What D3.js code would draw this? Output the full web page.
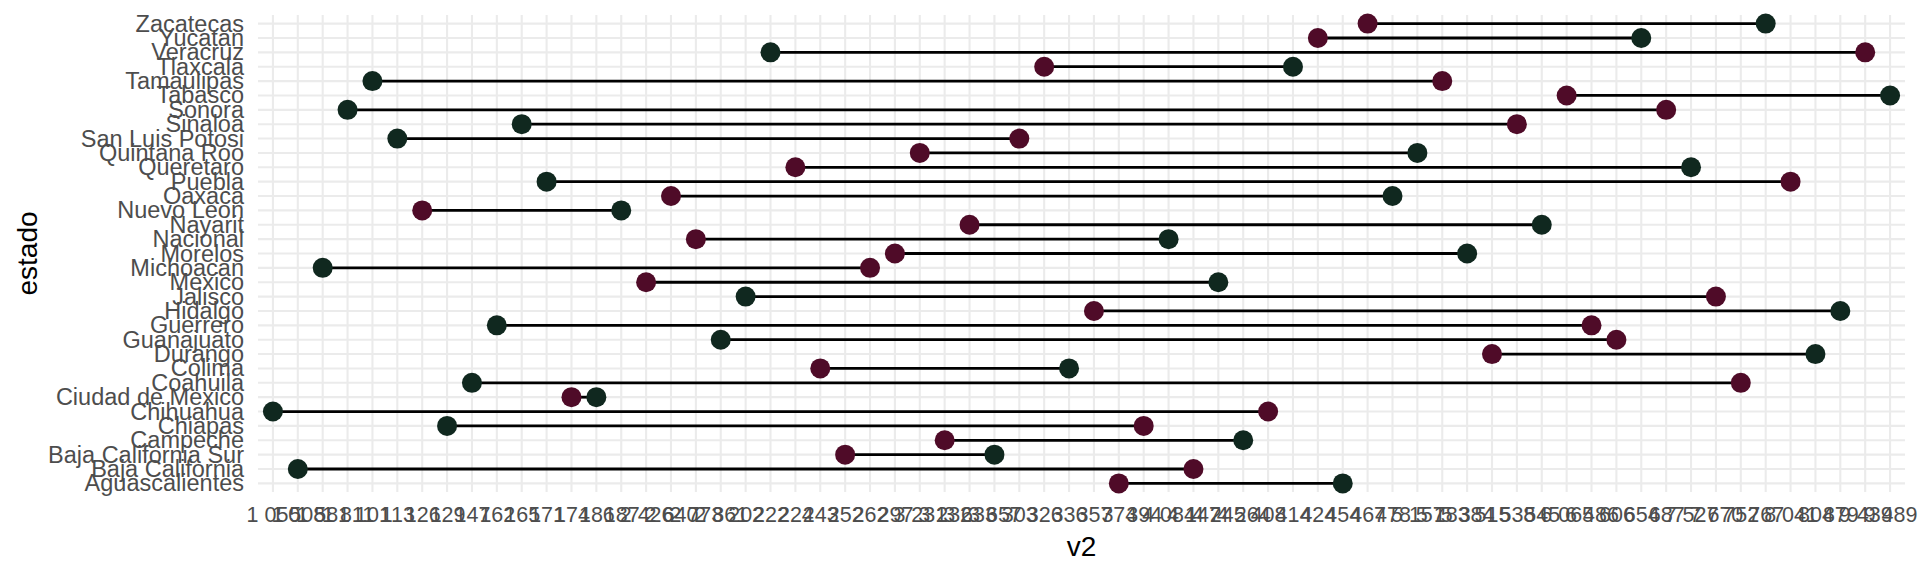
<!DOCTYPE html>
<html>
<head>
<meta charset="utf-8">
<script src="https://cdn.jsdelivr.net/npm/d3@7"></script>
<style>
  body { margin: 0; background: #fff; }
  svg { display: block; }
</style>
</head>
<body>
<svg id="chart"></svg>
<script>
// estados, bottom to top
var estados = ["Aguascalientes", "Baja California", "Baja California Sur", "Campeche", "Chiapas",
  "Chihuahua", "Ciudad de Mexico", "Coahuila", "Colima", "Durango", "Guanajuato", "Guerrero",
  "Hidalgo", "Jalisco", "Mexico", "Michoacan", "Morelos", "Nacional", "Nayarit", "Nuevo Leon",
  "Oaxaca", "Puebla", "Queretaro", "Quintana Roo", "San Luis Potosi", "Sinaloa", "Sonora",
  "Tabasco", "Tamaulipas", "Tlaxcala", "Veracruz", "Yucatan", "Zacatecas"];

// v2 levels (character, sorted), as shown on the x axis
var niveles = ["1 050", "1 508", "1 581", "1 811", "101", "113", "126", "129", "147", "162",
  "165", "171", "174", "186", "187", "2 426", "2 640", "2 773", "2 861", "202",
  "222", "224", "243", "252", "262", "297", "3 231", "3 232", "3 633", "3 657",
  "303", "326", "336", "357", "374", "394", "4 084", "4 147", "4 245", "4 264",
  "408", "414", "424", "454", "467", "478", "5 157", "5 183", "5 384", "515",
  "538", "545", "6 065", "6 486", "606", "654", "687", "7 527", "7 670", "752",
  "767", "8 041", "804", "879", "9 439", "9 489"];

// first value (maroon point), same order as estados
var valor1 = ["374", "4 147", "252", "3 232", "394", "408", "174", "752", "243", "515",
  "606", "6 486", "357", "7 670", "2 426", "262", "297", "2 773", "3 633", "126",
  "2 640", "8 041", "224", "3 231", "303", "538", "687", "6 065", "5 183", "326",
  "9 439", "424", "467"];

// second value (green point), same order as estados
var valor2 = ["454", "1 508", "3 657", "4 264", "129", "1 050", "186", "147", "336", "804",
  "2 861", "162", "879", "202", "4 245", "1 581", "5 384", "4 084", "545", "187",
  "478", "171", "7 527", "5 157", "113", "165", "1 811", "9 489", "101", "414",
  "222", "654", "767"];

var W = 1920, H = 576;
var x0 = 258, x1 = 1905, y0 = 15, y1 = 492;

var svg = d3.select("#chart").attr("width", W).attr("height", H);
var font = "'Liberation Sans', Arial, Helvetica, sans-serif";

var x = d3.scalePoint().domain(niveles).range([x0, x1]).padding(0.6);
var y = d3.scalePoint().domain(estados).range([y1, y0]).padding(0.6);

// grid
svg.append("g").selectAll("line.gx")
  .data(niveles).enter().append("line")
  .attr("x1", function(d) { return x(d); }).attr("x2", function(d) { return x(d); })
  .attr("y1", y0).attr("y2", y1)
  .attr("stroke", "#ebebeb").attr("stroke-width", 2.1);
svg.append("g").selectAll("line.gy")
  .data(estados).enter().append("line")
  .attr("y1", function(d) { return y(d); }).attr("y2", function(d) { return y(d); })
  .attr("x1", x0).attr("x2", x1)
  .attr("stroke", "#ebebeb").attr("stroke-width", 2.1);

var filas = estados.map(function(e, i) { return {estado: e, a: valor1[i], b: valor2[i]}; });

// segments
svg.append("g").selectAll("line.seg")
  .data(filas).enter().append("line")
  .attr("x1", function(d) { return x(d.a); })
  .attr("x2", function(d) { return x(d.b); })
  .attr("y1", function(d) { return y(d.estado); })
  .attr("y2", function(d) { return y(d.estado); })
  .attr("stroke", "#000").attr("stroke-width", 2.8);

// points
svg.append("g").selectAll("circle.a")
  .data(filas).enter().append("circle")
  .attr("cx", function(d) { return x(d.a); })
  .attr("cy", function(d) { return y(d.estado); })
  .attr("r", 10).attr("fill", "#4f0b28");
svg.append("g").selectAll("circle.b")
  .data(filas).enter().append("circle")
  .attr("cx", function(d) { return x(d.b); })
  .attr("cy", function(d) { return y(d.estado); })
  .attr("r", 10).attr("fill", "#10281f");

// axes
var ax = svg.append("g")
  .attr("transform", "translate(0," + y1 + ")")
  .call(d3.axisBottom(x).tickSize(0).tickPadding(15));
ax.select(".domain").remove();
ax.selectAll("text").attr("font-family", font).attr("font-size", "21.5px").attr("fill", "#4d4d4d");

var ay = svg.append("g")
  .attr("transform", "translate(" + x0 + ",0)")
  .call(d3.axisLeft(y).tickSize(0).tickPadding(14));
ay.select(".domain").remove();
ay.selectAll("text").attr("font-family", font).attr("font-size", "23.5px").attr("fill", "#4d4d4d");

// titles
svg.append("text")
  .attr("x", (x0 + x1) / 2).attr("y", 556)
  .attr("text-anchor", "middle")
  .attr("font-family", font).attr("font-size", "28px").attr("fill", "#000")
  .text("v2");
svg.append("text")
  .attr("transform", "translate(37," + (y0 + y1) / 2 + ") rotate(-90)")
  .attr("text-anchor", "middle")
  .attr("font-family", font).attr("font-size", "28px").attr("fill", "#000")
  .text("estado");
</script>
</body>
</html>
